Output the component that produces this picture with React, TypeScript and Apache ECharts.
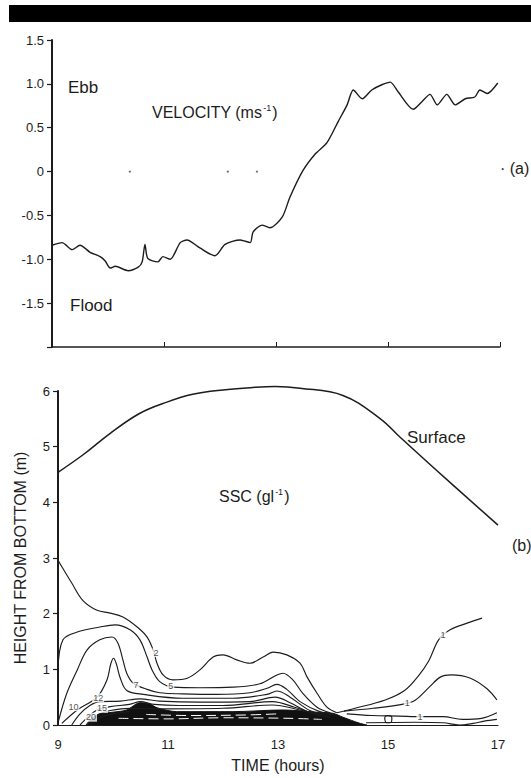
import { useEffect, useRef } from "react";
import * as echarts from "echarts";

// (a) near-bed velocity, hours vs m/s
const velocityTime = [
  9.0, 9.18, 9.36, 9.5, 9.68, 9.86, 9.95, 10.04, 10.13, 10.36,
  10.54, 10.61, 10.66, 10.71, 10.89, 10.98, 11.11, 11.29, 11.41, 11.64,
  11.91, 12.09, 12.36, 12.54, 12.59, 12.75, 12.89, 13.11, 13.25, 13.48,
  13.7, 13.91, 14.11, 14.27, 14.38, 14.54, 14.71, 14.89, 15.04, 15.18,
  15.45, 15.61, 15.75, 15.88, 16.05, 16.2, 16.38, 16.55, 16.64, 16.77,
  16.96,
];
const velocityValue = [
  -0.84, -0.81, -0.89, -0.84, -0.92, -0.97, -1.02, -1.1, -1.08, -1.13,
  -1.09, -1.03, -0.83, -0.99, -1.03, -0.97, -1.0, -0.81, -0.78, -0.87,
  -0.96, -0.83, -0.78, -0.81, -0.69, -0.61, -0.64, -0.52, -0.29, 0.01,
  0.2, 0.33, 0.57, 0.76, 0.93, 0.83, 0.93, 0.99, 1.02, 0.91,
  0.71, 0.8, 0.88, 0.76, 0.88, 0.76, 0.83, 0.85, 0.93, 0.89,
  1.01,
];
const zeroDots = [[10.39, 0], [12.14, 0], [12.66, 0]];
const velocityTicks = ["1.5", "1.0", "0.5", "0", "-0.5", "-1.0", "-1.5"];

// (b) water surface height above the bed
const surfaceTime = [9.0, 9.45, 9.95, 10.49, 10.98, 11.45, 12.0, 12.5, 12.95, 13.4, 14.18, 14.85, 15.22, 15.82, 17.0];
const surfaceHeight = [4.54, 4.85, 5.24, 5.6, 5.8, 5.94, 6.02, 6.06, 6.08, 6.05, 5.92, 5.51, 5.17, 4.63, 3.59];

// SSC isolines, [time (h), height (m)]
const ssc2 = [
  [9.0, 2.96], [9.25, 2.55], [9.45, 2.24], [9.71, 2.06], [9.95, 2.01], [10.18, 1.94],
  [10.44, 1.76], [10.62, 1.58], [10.73, 1.35], [10.8, 1.11], [10.91, 0.9], [11.09, 0.81],
  [11.35, 0.84], [11.58, 0.99], [11.82, 1.22], [12.0, 1.26], [12.25, 1.17], [12.49, 1.11],
  [12.73, 1.22], [12.91, 1.31], [13.16, 1.26], [13.4, 1.11], [13.53, 0.86], [13.71, 0.57],
  [13.89, 0.32], [14.07, 0.22],
];
const ssc5 = [
  [9.0, 0.99], [9.09, 1.53], [9.35, 1.67], [9.76, 1.76], [10.04, 1.8], [10.31, 1.71],
  [10.49, 1.53], [10.62, 1.22], [10.71, 0.99], [10.85, 0.78], [11.09, 0.68], [11.58, 0.67],
  [12.18, 0.68], [12.67, 0.74], [12.98, 0.9], [13.09, 0.93], [13.27, 0.81], [13.45, 0.57],
  [13.71, 0.32], [13.95, 0.22],
];
const ssc7 = [
  [9.0, 0.04], [9.16, 0.57], [9.35, 0.99], [9.53, 1.35], [9.76, 1.53], [9.98, 1.58],
  [10.09, 1.47], [10.18, 1.17], [10.25, 0.93], [10.36, 0.76], [10.62, 0.64], [10.85, 0.58],
  [11.27, 0.56], [11.89, 0.55], [12.49, 0.58], [12.8, 0.66], [12.98, 0.73], [13.16, 0.64],
  [13.4, 0.42], [13.76, 0.24], [14.07, 0.18],
];
const ssc10 = [
  [9.07, 0.03], [9.35, 0.27], [9.71, 0.5], [9.89, 0.81], [9.96, 1.1], [10.01, 1.2],
  [10.06, 1.1], [10.13, 0.85], [10.25, 0.62], [10.55, 0.55], [11.27, 0.48], [12.18, 0.48],
  [12.8, 0.55], [12.98, 0.61], [13.22, 0.5], [13.58, 0.26], [13.95, 0.16],
];
const ssc12 = [
  [9.25, 0], [9.4, 0.2], [9.58, 0.35], [9.76, 0.42], [10.13, 0.43], [10.49, 0.47],
  [10.85, 0.43], [11.58, 0.41], [12.49, 0.42], [12.95, 0.5], [13.22, 0.4], [13.58, 0.22],
  [13.95, 0.13],
];
const ssc15 = [
  [9.4, 0], [9.55, 0.15], [9.71, 0.27], [9.95, 0.33], [10.3, 0.37], [10.5, 0.42],
  [10.75, 0.37], [11.2, 0.35], [12.0, 0.35], [12.9, 0.42], [13.3, 0.32], [13.7, 0.19],
];
const ssc20 = [
  [9.51, 0], [9.62, 0.12], [9.76, 0.2], [9.95, 0.26], [10.3, 0.3], [11.0, 0.29],
  [12.0, 0.3], [12.9, 0.36], [13.4, 0.27], [13.8, 0.18],
];
const ssc25 = [[9.58, 0], [9.66, 0.08], [9.8, 0.15], [10.0, 0.2], [10.3, 0.24]];
// dense high-concentration layer next to the bed
const sscCore = [
  [9.53, 0], [9.64, 0.13], [9.76, 0.2], [10.0, 0.23], [10.25, 0.27], [10.49, 0.4],
  [10.67, 0.38], [10.8, 0.31], [11.16, 0.24], [12.18, 0.24], [13.09, 0.27], [13.71, 0.23],
  [14.0, 0.21], [14.18, 0.14], [14.49, 0.03], [14.62, 0],
];
const sscCoreStreaks = [
  [[10.1, 0.12], [11.0, 0.11], [12.0, 0.13], [13.2, 0.12], [13.8, 0.1]],
  [[10.6, 0.19], [11.4, 0.17], [12.4, 0.18], [13.0, 0.2]],
];
// late-flood isolines
const ssc1a = [
  [14.07, 0.22], [14.4, 0.3], [14.95, 0.45], [15.3, 0.62], [15.55, 0.88], [15.74, 1.15],
  [15.92, 1.53], [16.13, 1.71], [16.44, 1.83], [16.71, 1.92],
];
const ssc1b = [
  [14.2, 0.25], [14.73, 0.3], [15.3, 0.38], [15.5, 0.45], [15.75, 0.68], [15.95, 0.86],
  [16.15, 0.9], [16.5, 0.84], [16.8, 0.65], [16.98, 0.45],
];
const ssc1c = [
  [14.25, 0.2], [14.7, 0.17], [15.2, 0.16], [15.6, 0.15], [16.0, 0.15], [16.35, 0.1],
  [16.7, 0.12], [16.98, 0.22],
];
const ssc1d = [
  [14.6, 0.04], [15.5, 0.05], [16.0, 0.04], [16.3, 0.0], [16.55, 0.03], [16.75, 0.07], [16.98, 0.1],
];
const sscLoop = [[14.96, 0.04], [14.94, 0.12], [15.0, 0.17], [15.07, 0.13], [15.06, 0.05], [14.96, 0.04]];

const contourLabels = [
  [10.78, 1.3, "2"], [11.05, 0.7, "5"], [10.42, 0.72, "7"], [9.28, 0.33, "10"],
  [9.73, 0.49, "12"], [9.8, 0.3, "15"], [9.6, 0.14, "20"],
  [16.0, 1.62, "1"], [15.35, 0.39, "1"], [15.58, 0.15, "1"],
];

const INK = "#1c1c1c";
const FONT = "Liberation Sans, Arial, sans-serif";

function isoline(data: number[][], extra: any = {}) {
  return {
    type: "line",
    xAxisIndex: 1,
    yAxisIndex: 1,
    data,
    showSymbol: false,
    symbol: "none",
    smooth: 0.35,
    silent: true,
    z: 3,
    lineStyle: { color: INK, width: 1.15 },
    ...extra,
  };
}

export default function App() {
  const ref = useRef<HTMLDivElement>(null);

  useEffect(() => {
    const chart = echarts.init(ref.current!, null, { renderer: "svg" });
    const axisLine = { show: true, lineStyle: { color: INK, width: 2 } };
    const tickLabel = { color: INK, fontFamily: FONT, fontSize: 13 };

    chart.setOption({
      animation: false,
      backgroundColor: "#ffffff",
      textStyle: { fontFamily: FONT },
      grid: [
        { left: 52, right: 31, top: 40, bottom: 431 },
        { left: 58, right: 33, top: 391, bottom: 53 },
      ],
      xAxis: [
        {
          gridIndex: 0, type: "value", min: 9, max: 17, interval: 2,
          axisLine: { show: true, onZero: false, lineStyle: { color: INK, width: 1.5 } },
          axisTick: { show: true, inside: true, length: 5, lineStyle: { color: INK } },
          axisLabel: { show: false },
          splitLine: { show: false },
        },
        {
          gridIndex: 1, type: "value", min: 9, max: 17, interval: 2,
          axisLine: { show: true, onZero: false, lineStyle: { color: INK, width: 1 } },
          axisTick: { show: false },
          axisLabel: { ...tickLabel, margin: 13 },
          splitLine: { show: false },
          name: "TIME (hours)",
          nameLocation: "middle",
          nameGap: 32,
          nameTextStyle: { color: INK, fontFamily: FONT, fontSize: 16 },
        },
      ],
      yAxis: [
        {
          gridIndex: 0, type: "value", min: -2, max: 1.5, interval: 0.5,
          axisLine,
          axisTick: { show: true, length: 5, lineStyle: { color: INK, width: 1.2 } },
          axisLabel: {
            ...tickLabel,
            margin: 8,
            formatter: (v: number) => {
              const idx = Math.round((1.5 - v) / 0.5);
              return velocityTicks[idx] ?? "";
            },
          },
          splitLine: { show: false },
        },
        {
          gridIndex: 1, type: "value", min: 0, max: 6, interval: 1,
          axisLine,
          axisTick: { show: true, length: 5, lineStyle: { color: INK, width: 1.2 } },
          axisLabel: { ...tickLabel, margin: 8 },
          splitLine: { show: false },
          name: "HEIGHT FROM BOTTOM (m)",
          nameLocation: "middle",
          nameGap: 30,
          nameTextStyle: { color: INK, fontFamily: FONT, fontSize: 16 },
        },
      ],
      series: [
        {
          type: "line",
          name: "VELOCITY",
          xAxisIndex: 0,
          yAxisIndex: 0,
          data: velocityTime.map((t, i) => [t, velocityValue[i]]),
          showSymbol: false,
          symbol: "none",
          smooth: 0.25,
          lineStyle: { color: INK, width: 1.4 },
        },
        {
          type: "scatter",
          xAxisIndex: 0,
          yAxisIndex: 0,
          data: zeroDots,
          symbolSize: 2,
          itemStyle: { color: "#444" },
        },
        {
          type: "line",
          name: "Surface",
          xAxisIndex: 1,
          yAxisIndex: 1,
          data: surfaceTime.map((t, i) => [t, surfaceHeight[i]]),
          showSymbol: false,
          symbol: "none",
          smooth: 0.4,
          clip: false,
          lineStyle: { color: INK, width: 1.5 },
        },
        isoline(sscCore, {
          z: 2,
          smooth: 0.3,
          lineStyle: { color: "#111", width: 1 },
          areaStyle: { color: "#111", opacity: 1 },
        }),
        ...sscCoreStreaks.map((d) =>
          isoline(d, { z: 4, lineStyle: { color: "#ffffff", width: 1, type: [10, 5] } })
        ),
        isoline(ssc2),
        isoline(ssc5),
        isoline(ssc7),
        isoline(ssc10),
        isoline(ssc12),
        isoline(ssc15),
        isoline(ssc20),
        isoline(ssc25),
        isoline(ssc1a),
        isoline(ssc1b),
        isoline(ssc1c),
        isoline(ssc1d),
        isoline(sscLoop, { smooth: 0.5 }),
        {
          type: "scatter",
          xAxisIndex: 1,
          yAxisIndex: 1,
          z: 6,
          silent: true,
          data: contourLabels,
          symbolSize: 1,
          itemStyle: { color: "rgba(0,0,0,0)" },
          label: {
            show: true,
            position: "inside",
            formatter: (p: any) => p.value[2],
            color: INK,
            fontFamily: FONT,
            fontSize: 9,
            lineHeight: 9,
            backgroundColor: "#ffffff",
            padding: [0, 1],
          },
        },
      ],
      graphic: [
        { type: "rect", shape: { x: 9, y: 5, width: 522, height: 17 }, style: { fill: "#000" } },
        {
          type: "text", x: 68, y: 87,
          style: { text: "Ebb", fill: INK, font: `17px ${FONT}`, verticalAlign: "middle" },
        },
        {
          type: "text", x: 152, y: 112,
          style: {
            text: "{a|VELOCITY (ms}{s|-1}{a|)}",
            verticalAlign: "middle",
            rich: {
              a: { fill: INK, font: `16px ${FONT}` },
              s: { fill: INK, font: `9px ${FONT}`, padding: [0, 1, 9, 1] },
            },
          },
        },
        {
          type: "text", x: 70, y: 305,
          style: { text: "Flood", fill: INK, font: `17px ${FONT}`, verticalAlign: "middle" },
        },
        {
          type: "text", x: 500, y: 168,
          style: { text: "· (a)", fill: INK, font: `16px ${FONT}`, verticalAlign: "middle" },
        },
        {
          type: "text", x: 407, y: 437,
          style: { text: "Surface", fill: INK, font: `17px ${FONT}`, verticalAlign: "middle" },
        },
        {
          type: "text", x: 219, y: 496,
          style: {
            text: "{a|SSC (gl}{s|-1}{a|)}",
            verticalAlign: "middle",
            rich: {
              a: { fill: INK, font: `16px ${FONT}` },
              s: { fill: INK, font: `9px ${FONT}`, padding: [0, 1, 9, 1] },
            },
          },
        },
        {
          type: "text", x: 512, y: 545,
          style: { text: "(b)", fill: INK, font: `16px ${FONT}`, verticalAlign: "middle" },
        },
      ],
    });

    return () => chart.dispose();
  }, []);

  return (
    <div
      ref={ref}
      style={{ position: "absolute", left: 0, top: 0, width: 531, height: 778 }}
    />
  );
}
